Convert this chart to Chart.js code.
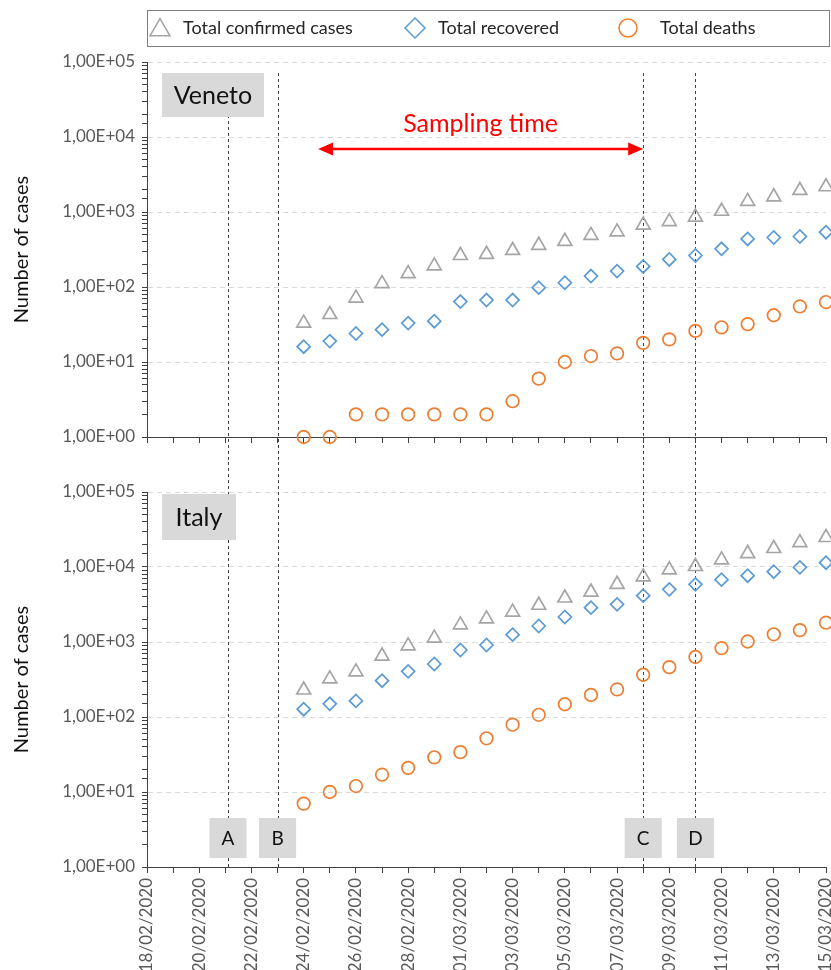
<!DOCTYPE html>
<html>
<head>
<meta charset="utf-8">
<script src="https://cdn.jsdelivr.net/npm/chart.js@4.4.1/dist/chart.umd.min.js"></script>
<style>
html, body { margin: 0; padding: 0; background: #fff; overflow: hidden; width: 831px; height: 970px; }
#top { position: absolute; left: 0; top: 0; width: 831px; height: 462px; }
#bottom { position: absolute; left: 0; top: 462px; width: 831px; height: 538px; }
</style>
</head>
<body>
<div id="top"><canvas id="venetoChart"></canvas></div>
<div id="bottom"><canvas id="italyChart"></canvas></div>
<script>
const dates = [
  '18/02/2020', '19/02/2020', '20/02/2020', '21/02/2020', '22/02/2020', '23/02/2020',
  '24/02/2020', '25/02/2020', '26/02/2020', '27/02/2020', '28/02/2020', '29/02/2020',
  '01/03/2020', '02/03/2020', '03/03/2020', '04/03/2020', '05/03/2020', '06/03/2020',
  '07/03/2020', '08/03/2020', '09/03/2020', '10/03/2020', '11/03/2020', '12/03/2020',
  '13/03/2020', '14/03/2020', '15/03/2020'
]
// no data before 24/02
const noData = [null, null, null, null, null, null]

const venetoConfirmed = noData.concat([33, 43, 71, 111, 151, 191, 263, 273, 307, 360, 407, 488, 543, 670, 744, 856, 1023, 1384, 1595, 1937, 2172])
const venetoRecovered = noData.concat([16, 19, 24, 27, 33, 35, 64, 67, 67, 98, 114, 140, 163, 188, 233, 263, 323, 437, 457, 471, 538])
const venetoDeaths = noData.concat([1, 1, 2, 2, 2, 2, 2, 2, 3, 6, 10, 12, 13, 18, 20, 26, 29, 32, 42, 55, 63])

const italyConfirmed = noData.concat([229, 322, 400, 650, 888, 1128, 1694, 2036, 2502, 3089, 3858, 4636, 5883, 7375, 9172, 10149, 12462, 15113, 17660, 21157, 24747])
const italyRecovered = noData.concat([127, 150, 164, 305, 406, 509, 782, 912, 1253, 1634, 2154, 2869, 3179, 4149, 5036, 5872, 6780, 7660, 8660, 9900, 11420])
const italyDeaths = noData.concat([7, 10, 12, 17, 21, 29, 34, 52, 79, 107, 148, 197, 233, 366, 463, 631, 827, 1016, 1266, 1441, 1809])

const seriesNames = ['Total confirmed cases', 'Total recovered', 'Total deaths']
const yTickValues = [1, 10, 100, 1000, 10000, 100000]

// vertical event markers, in day index from 18/02
const eventLabels = ['A', 'B', 'C', 'D']
const eventDays = [3.1, 5, 19, 21]
const samplingStart = 6.55

const GREY = '#a5a5a5'
const BLUE = '#5b9bd5'
const ORANGE = '#ed7d31'
const STYLES = [
  {pointStyle: 'triangle', color: GREY, r: 8},
  {pointStyle: 'rectRot', color: BLUE, r: 6.5},
  {pointStyle: 'circle', color: ORANGE, r: 6.3}
]

Chart.defaults.font.family = 'Lato, "Open Sans", sans-serif'
Chart.defaults.animation = false

function isDecade(v) {
  const l = Math.log10(v)
  return Math.abs(l - Math.round(l)) < 1e-9
}
function expLabel(v) {
  let e = Math.round(Math.log10(v))
  return '1,00E+' + (e < 10 ? '0' + e : '' + e)
}

function makeDatasets(values) {
  return values.map((data, i) => ({
    label: seriesNames[i],
    data: data,
    showLine: false,
    clip: false,
    pointStyle: STYLES[i].pointStyle,
    borderColor: STYLES[i].color,
    backgroundColor: 'rgba(0,0,0,0)',
    pointRadius: STYLES[i].r,
    pointHoverRadius: STYLES[i].r,
    pointBorderWidth: 1.7
  }))
}

function yAxis() {
  return {
    type: 'logarithmic',
    min: yTickValues[0],
    max: yTickValues[yTickValues.length - 1],
    afterFit: s => { s.width = 147; s.paddingTop = 0; s.paddingBottom = 0 },
    title: {display: true, text: 'Number of cases', color: '#111', font: {size: 20}, padding: {top: 10, bottom: 0}},
    ticks: {
      autoSkip: false,
      color: '#595959',
      font: {size: 17},
      padding: 7,
      callback: v => isDecade(v) ? expLabel(v) : ''
    },
    grid: {
      color: c => (c.tick && isDecade(c.tick.value) && c.tick.value > 1) ? '#d9d9d9' : 'rgba(0,0,0,0)',
      tickColor: '#404040',
      tickLength: 5
    },
    border: {color: '#404040', dash: [5, 4]}
  }
}

function xAxis(showLabels, height) {
  return {
    type: 'category',
    offset: false,
    afterFit: s => { s.height = height; s.paddingLeft = 0; s.paddingRight = 0 },
    ticks: {
      display: showLabels,
      autoSkip: false,
      minRotation: 90,
      maxRotation: 90,
      color: '#595959',
      font: {size: 17},
      padding: 5,
      callback: function(v, i) { return i % 2 === 0 ? this.getLabelForValue(v) : '' }
    },
    grid: {drawOnChartArea: false, drawTicks: true, tickLength: 6, tickColor: '#404040'},
    border: {color: '#404040'}
  }
}

function greyBox(ctx, x, y, w, h, text, size) {
  ctx.fillStyle = '#d9d9d9'
  ctx.fillRect(x, y, w, h)
  ctx.fillStyle = '#111'
  ctx.font = size + 'px Lato, sans-serif'
  ctx.textAlign = 'center'
  ctx.textBaseline = 'middle'
  ctx.fillText(text, x + w / 2, y + h / 2 + 1)
}

function eventLines(chart, y1, y2) {
  const ctx = chart.ctx
  const xs = chart.scales.x
  ctx.save()
  ctx.strokeStyle = '#404040'
  ctx.lineWidth = 1
  ctx.setLineDash([3, 3])
  eventDays.forEach(d => {
    const x = Math.round(xs.getPixelForValue(d)) + 0.5
    ctx.beginPath()
    ctx.moveTo(x, y1)
    ctx.lineTo(x, y2)
    ctx.stroke()
  })
  ctx.restore()
}

function arrowHead(ctx, x, y, dir) {
  ctx.beginPath()
  ctx.moveTo(x, y)
  ctx.lineTo(x - dir * 15, y - 6.5)
  ctx.lineTo(x - dir * 15, y + 6.5)
  ctx.closePath()
  ctx.fill()
}

const venetoPlugin = {
  id: 'venetoMarks',
  beforeDatasetsDraw(chart) {
    eventLines(chart, chart.chartArea.top + 11, chart.height)
  },
  afterDraw(chart) {
    const ctx = chart.ctx
    const area = chart.chartArea
    const xs = chart.scales.x
    ctx.save()
    // legend
    ctx.strokeStyle = '#7f7f7f'
    ctx.lineWidth = 1
    ctx.strokeRect(147.5, 10.5, 682, 36)
    const symX = [160, 415, 628]
    const textX = [183, 438, 660]
    const legR = [11.5, 10, 9]
    chart.data.datasets.forEach((ds, i) => {
      ctx.strokeStyle = ds.borderColor
      ctx.fillStyle = 'rgba(0,0,0,0)'
      ctx.lineWidth = 1.5
      Chart.helpers.drawPoint(ctx, {pointStyle: ds.pointStyle, radius: legR[i], borderWidth: 1.5, rotation: 0}, symX[i], i === 0 ? 30 : 28)
      ctx.fillStyle = '#262626'
      ctx.font = '18px Lato, sans-serif'
      ctx.textAlign = 'left'
      ctx.textBaseline = 'middle'
      ctx.fillText(ds.label, textX[i], 28)
    })
    // panel label
    greyBox(ctx, area.left + 15, area.top + 11, 102, 44, 'Veneto', 25)
    // sampling time arrow
    const xa = xs.getPixelForValue(samplingStart)
    const xb = xs.getPixelForValue(eventDays[2])
    const ya = area.top + 87
    ctx.strokeStyle = '#ff0000'
    ctx.fillStyle = '#ff0000'
    ctx.lineWidth = 2.5
    ctx.beginPath()
    ctx.moveTo(xa + 10, ya)
    ctx.lineTo(xb - 10, ya)
    ctx.stroke()
    arrowHead(ctx, xa, ya, -1)
    arrowHead(ctx, xb, ya, 1)
    ctx.font = '25px Lato, sans-serif'
    ctx.textAlign = 'center'
    ctx.textBaseline = 'middle'
    ctx.fillText('Sampling time', (xa + xb) / 2, area.top + 62)
    ctx.restore()
  }
}

const italyPlugin = {
  id: 'italyMarks',
  beforeDatasetsDraw(chart) {
    eventLines(chart, 0, chart.chartArea.bottom)
  },
  afterDraw(chart) {
    const ctx = chart.ctx
    const area = chart.chartArea
    const xs = chart.scales.x
    ctx.save()
    greyBox(ctx, area.left + 15, area.top + 2, 74, 46, 'Italy', 25)
    eventDays.forEach((d, i) => {
      const x = xs.getPixelForValue(d)
      greyBox(ctx, x - 18.5, area.bottom - 49, 37, 40, eventLabels[i], 19)
    })
    ctx.restore()
  }
}

function makeChart(id, values, showLabels, padTop, xHeight, plugin) {
  return new Chart(document.getElementById(id), {
    type: 'line',
    data: {labels: dates, datasets: makeDatasets(values)},
    options: {
      responsive: true,
      maintainAspectRatio: false,
      devicePixelRatio: 1,
      events: [],
      layout: {autoPadding: false, padding: {top: padTop, left: 0, right: 5, bottom: 0}},
      plugins: {legend: {display: false}, tooltip: {enabled: false}},
      scales: {x: xAxis(showLabels, xHeight), y: yAxis()}
    },
    plugins: [plugin]
  })
}

makeChart('venetoChart', [venetoConfirmed, venetoRecovered, venetoDeaths], false, 62, 25, venetoPlugin)
makeChart('italyChart', [italyConfirmed, italyRecovered, italyDeaths], true, 30, 133, italyPlugin)
</script>
</body>
</html>
